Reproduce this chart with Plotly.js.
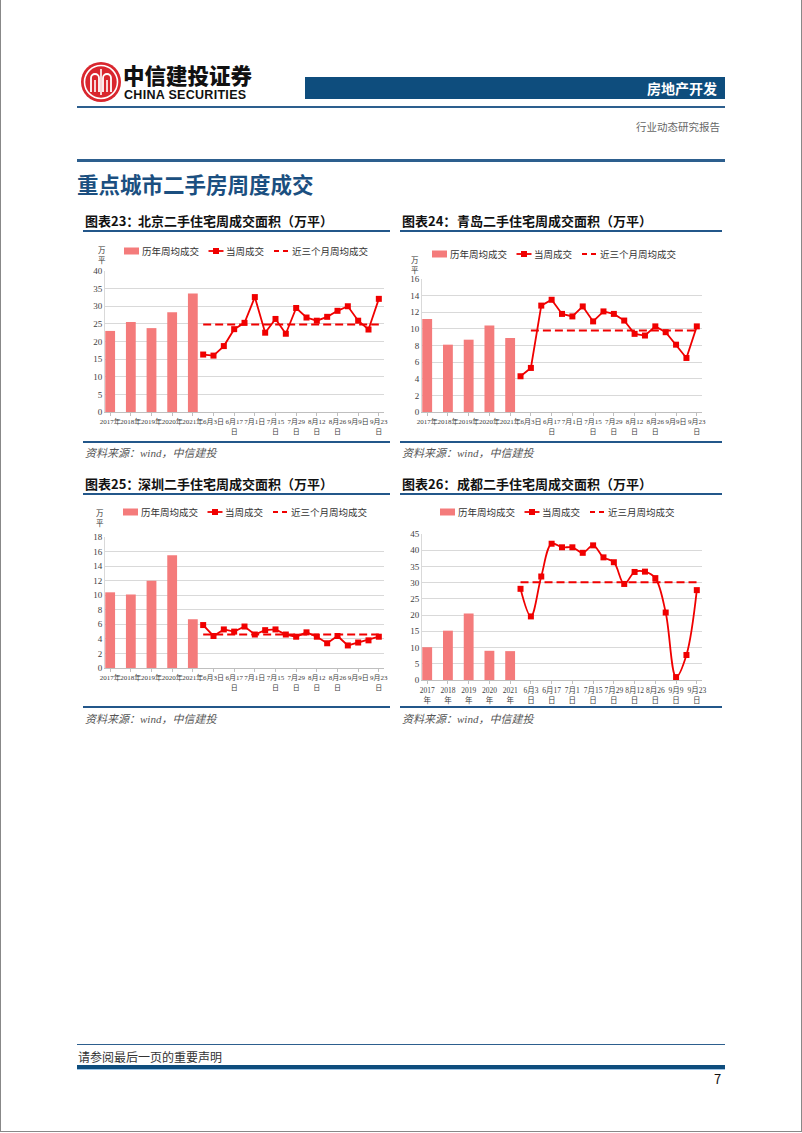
<!DOCTYPE html>
<html><head><meta charset="utf-8">
<script src="https://cdn.plot.ly/plotly-3.0.1.min.js"></script>
<style>
body{margin:0;background:#fff;}
#page{position:relative;width:802px;height:1133px;overflow:hidden;font-family:"Noto Sans CJK SC","Noto Sans",sans-serif;background:#fff;}
.abs{position:absolute;white-space:nowrap;}
.hl{position:absolute;height:0;border-top:2px solid #23578A;}
.ct{position:absolute;font-size:13px;font-weight:700;color:#111;line-height:16px;}
.src{position:absolute;font-size:11px;font-style:italic;color:#555;line-height:14px;font-family:"Liberation Serif","Noto Sans CJK SC",serif;}
.chart{position:absolute;}
</style></head><body>
<div id="page">
  <div class="abs" style="left:0;top:0;width:800px;height:1131px;border-left:1px solid #888;border-right:1px solid #888;border-bottom:1px solid #888;"></div>
  <!-- logo -->
  <svg class="abs" style="left:80px;top:61px" width="42" height="42" viewBox="0 0 42 42">
    <circle cx="21" cy="21" r="20" fill="#D9262E"/>
    <circle cx="21" cy="21" r="16.5" fill="none" stroke="#fff" stroke-width="1.6"/>
    <path d="M11 31V17a4 4 0 0 1 8 0V31M23 31V17a4 4 0 0 1 8 0V31" fill="none" stroke="#fff" stroke-width="1.8"/>
    <path d="M15 31V19M27 31V19M21 8V34" fill="none" stroke="#fff" stroke-width="1.6"/>
  </svg>
  <div class="abs" style="left:123px;top:63px;font-size:21.5px;font-weight:900;color:#111;line-height:24px;">中信建投证券</div>
  <div class="abs" style="left:124px;top:89px;font-size:12.5px;font-weight:700;color:#111;line-height:13px;font-family:'Liberation Sans Narrow','Liberation Sans',sans-serif;letter-spacing:0.3px;">CHINA SECURITIES</div>
  <div class="abs" style="left:305px;top:77px;width:420px;height:22px;background:#0E4D7D;"></div>
  <div class="abs" style="left:600px;top:77px;width:117px;height:22px;line-height:22px;text-align:right;color:#fff;font-size:14px;font-weight:700;">房地产开发</div>
  <div class="hl" style="left:77px;top:106px;width:648px;border-top:2px solid #2D5F8E;"></div>
  <div class="abs" style="left:560px;top:119px;width:160px;text-align:right;font-size:10.5px;color:#666;line-height:16px;">行业动态研究报告</div>
  <div class="hl" style="left:77px;top:159px;width:648px;border-top:3px solid #2D5F8E;"></div>
  <div class="abs" style="left:77px;top:170px;font-size:21.5px;font-weight:700;color:#1B4F80;line-height:28px;">重点城市二手房周度成交</div>

  <!-- chart titles row 1 -->
  <div class="ct" style="left:85px;top:213px;">图表23：</div>
  <div class="ct" style="left:138px;top:213px;">北京二手住宅周成交面积（万平）</div>
  <div class="ct" style="left:402px;top:213px;">图表24：</div>
  <div class="ct" style="left:457px;top:213px;">青岛二手住宅周成交面积（万平）</div>
  <div class="hl" style="left:83px;top:230px;width:307px;"></div>
  <div class="hl" style="left:400px;top:230px;width:322px;"></div>

  <div id="c1" class="chart" style="left:75px;top:236px;width:320px;height:202px;"></div>
  <div id="c2" class="chart" style="left:395px;top:236px;width:325px;height:202px;"></div>

  <div class="hl" style="left:83px;top:441px;width:307px;"></div>
  <div class="hl" style="left:400px;top:441px;width:322px;"></div>
  <div class="src" style="left:85px;top:446px;">资料来源：wind，中信建投</div>
  <div class="src" style="left:402px;top:446px;">资料来源：wind，中信建投</div>

  <!-- chart titles row 2 -->
  <div class="ct" style="left:85px;top:476px;">图表25：</div>
  <div class="ct" style="left:138px;top:476px;">深圳二手住宅周成交面积（万平）</div>
  <div class="ct" style="left:402px;top:476px;">图表26：</div>
  <div class="ct" style="left:457px;top:476px;">成都二手住宅周成交面积（万平）</div>
  <div class="hl" style="left:83px;top:493px;width:307px;"></div>
  <div class="hl" style="left:400px;top:493px;width:322px;"></div>

  <div id="c3" class="chart" style="left:75px;top:500px;width:320px;height:200px;"></div>
  <div id="c4" class="chart" style="left:395px;top:500px;width:325px;height:206px;"></div>

  <div class="hl" style="left:83px;top:706px;width:307px;"></div>
  <div class="hl" style="left:400px;top:706px;width:322px;"></div>
  <div class="src" style="left:85px;top:712px;">资料来源：wind，中信建投</div>
  <div class="src" style="left:402px;top:712px;">资料来源：wind，中信建投</div>

  <!-- footer -->
  <div class="hl" style="left:77px;top:1044px;width:648px;border-top:1.5px solid #2D5F8E;"></div>
  <div class="abs" style="left:78px;top:1049px;font-size:12px;color:#333;line-height:16px;">请参阅最后一页的重要声明</div>
  <div class="hl" style="left:77px;top:1065px;width:648px;border-top:4px solid #0E4D7D;"></div>
  <div class="hl" style="left:77px;top:1069px;width:648px;border-top:1px solid #9CC3E6;"></div>
  <div class="abs" style="left:714px;top:1071px;font-size:13px;color:#111;line-height:16px;">7</div>
</div>
<script>
// ---------------- data ----------------
const yearLabels = ['2017年','2018年','2019年','2020年','2021年'];
const weekLabels = ['5月27日','6月3日','6月10日','6月17日','6月24日','7月1日','7月8日','7月15日','7月22日','7月29日','8月5日','8月12日','8月19日','8月26日','9月2日','9月9日','9月16日','9月23日'];
const legendNames = ['历年周均成交','当周成交','近三个月周均成交'];
const legendNamesCD = ['历年周均成交','当周成交','近三月周均成交'];

const bjYearly = [23.0, 25.5, 23.8, 28.3, 33.6];
const bjWeekly = [16.3, 16.0, 18.7, 23.5, 25.3, 32.6, 22.5, 26.4, 22.2, 29.5, 26.8, 25.9, 27.0, 28.7, 30.0, 25.9, 23.4, 32.1];
const bjAvg3m = 24.8;

const qdYearly = [11.2, 8.1, 8.7, 10.4, 8.9];
const qdWeekly = [4.3, 5.3, 12.8, 13.5, 11.8, 11.5, 12.7, 10.9, 12.1, 11.8, 11.0, 9.4, 9.2, 10.3, 9.6, 8.1, 6.5, 10.3];
const qdAvg3m = 9.8;

const szYearly = [10.4, 10.1, 12.0, 15.5, 6.7];
const szWeekly = [5.9, 4.4, 5.3, 5.0, 5.7, 4.6, 5.2, 5.3, 4.6, 4.3, 4.9, 4.3, 3.4, 4.4, 3.1, 3.5, 3.8, 4.3];
const szAvg3m = 4.6;

const cdYearly = [10.1, 15.2, 20.5, 9.0, 8.9];
const cdWeekly = [28.1, 19.6, 31.9, 42.0, 40.9, 40.9, 39.2, 41.5, 37.8, 36.3, 29.6, 33.3, 33.4, 31.4, 20.8, 0.9, 7.7, 27.7];
const cdAvg3m = 30.1;

// ---------------- drawing ----------------
const BAR = '#F47B7B', RED = '#F00000', GRID = '#D9D9D9';
const serif = '"Liberation Serif","Noto Sans CJK SC",serif';
const cjk = '"Noto Sans CJK SC",sans-serif';
const LEG_FONT = 9.5;

function wrapLabel(s, force){
  if (force || s.length > 4) return s.slice(0, -1) + '<br>' + s.slice(-1);
  return s;
}

function makeChart(o){
  const nY = o.yearly.length;
  const yearX = o.yearly.map((_, i) => 2 * i);
  const weekX = o.weekly.map((_, j) => 2 * nY - 1 + j);
  const avgY = o.weekly.map((_, j) => j >= o.avgFrom ? o.avg : null);
  const tickvals = [], ticktext = [];
  yearX.forEach((x, i) => { tickvals.push(x); ticktext.push(o.wrapAll ? wrapLabel(yearLabels[i], true) : yearLabels[i]); });
  weekX.forEach((x, j) => { if (j % 2 === 1) { tickvals.push(x); ticktext.push(wrapLabel(weekLabels[j], o.wrapAll)); } });

  const traces = [
    {type:'bar', x:yearX, y:o.yearly, name:o.names[0], width:0.95, marker:{color:BAR, line:{width:0}}},
    {type:'scatter', mode:'lines+markers', x:weekX, y:o.weekly, name:o.names[1],
      line:{color:RED, width:1.8, shape:o.smooth ? 'spline' : 'linear', smoothing:1},
      marker:{symbol:'square', size:6, color:RED}},
    {type:'scatter', mode:'lines', x:weekX, y:avgY, name:o.names[2],
      line:{color:RED, width:2, dash:'8px,4px'}}
  ];

  // legend (drawn as shapes + text, positioned in pixels of the chart box)
  const pw = o.w - o.m.l - o.m.r, ph = o.h - o.m.t - o.m.b;
  const px = v => (v - o.m.l) / pw;
  const py = v => (o.h - o.m.b - v) / ph;
  const shapes = [], annotations = [];
  let cx = o.legX;
  const yc = o.legY;
  o.names.forEach((name, k) => {
    const base = {xref:'paper', yref:'paper'};
    if (k === 0) {
      shapes.push(Object.assign({type:'rect', x0:px(cx), x1:px(cx + 15), y0:py(yc + 3.5), y1:py(yc - 3.5),
        fillcolor:BAR, line:{width:0}}, base));
    } else if (k === 1) {
      shapes.push(Object.assign({type:'line', x0:px(cx), x1:px(cx + 15), y0:py(yc), y1:py(yc),
        line:{color:RED, width:1.8}}, base));
      shapes.push(Object.assign({type:'rect', x0:px(cx + 4.5), x1:px(cx + 10.5), y0:py(yc + 3), y1:py(yc - 3),
        fillcolor:RED, line:{width:0}}, base));
    } else {
      shapes.push(Object.assign({type:'line', x0:px(cx), x1:px(cx + 14), y0:py(yc), y1:py(yc),
        line:{color:RED, width:2, dash:'5px,4px'}}, base));
    }
    annotations.push({xref:'paper', yref:'paper', x:px(cx + 16.5), y:py(yc), xanchor:'left', yanchor:'middle',
      text:name, showarrow:false, font:{family:cjk, size:LEG_FONT, color:'#333'}, borderpad:0});
    cx += 16.5 + name.length * LEG_FONT + 11;
  });

  if (o.unit) {
    annotations.push({xref:'paper', yref:'paper', x:0, y:1, xanchor:'center', yanchor:'bottom',
      xshift:o.unit.dx, yshift:o.unit.dy, text:'万<br>平', showarrow:false,
      font:{family:cjk, size:7.5, color:'#333'}});
  }
  const layout = {
    width:o.w, height:o.h, margin:o.m, paper_bgcolor:'#fff', plot_bgcolor:'#fff',
    showlegend:false, barmode:'overlay',
    xaxis:{range:[-0.5, 2 * nY - 1 + o.weekly.length - 0.5], tickmode:'array', tickvals:tickvals, ticktext:ticktext,
      showgrid:false, zeroline:false, showline:true, linecolor:'#BFBFBF', linewidth:1,
      ticks:'outside', ticklen:3, tickcolor:'#BFBFBF',
      tickfont:{family:serif, size:o.xfont, color:'#404040'}, tickangle:0, fixedrange:true},
    yaxis:{range:[0, o.yMax], dtick:o.dtick, tick0:0, showgrid:true, gridcolor:GRID, gridwidth:1,
      zeroline:false, showline:true, linecolor:'#D9D9D9', ticks:'',
      tickfont:{family:serif, size:9, color:'#404040'}, fixedrange:true},
    shapes:shapes,
    annotations:annotations,
    font:{family:cjk}
  };
  Plotly.newPlot(o.id, traces, layout, {staticPlot:true, displayModeBar:false});
}

// legend positions are given in pixels inside each chart box
makeChart({id:'c1', yearly:bjYearly, weekly:bjWeekly, avg:bjAvg3m, avgFrom:0, names:legendNames,
  yMax:40, dtick:5, wrapAll:false, smooth:false, xfont:7, w:320, h:202, m:{l:30, r:11, t:35, b:26},
  legX:49, legY:15, unit:{dx:-3, dy:4}});
makeChart({id:'c2', yearly:qdYearly, weekly:qdWeekly, avg:qdAvg3m, avgFrom:1, names:legendNames,
  yMax:16, dtick:2, wrapAll:false, smooth:false, xfont:7, w:325, h:202, m:{l:27, r:18, t:43, b:26},
  legX:37, legY:18, unit:{dx:-7, dy:2}});
makeChart({id:'c3', yearly:szYearly, weekly:szWeekly, avg:szAvg3m, avgFrom:0, names:legendNames,
  yMax:18, dtick:2, wrapAll:false, smooth:false, xfont:7, w:320, h:200, m:{l:30, r:11, t:37, b:32},
  legX:48, legY:12, unit:{dx:-5, dy:7}});
makeChart({id:'c4', yearly:cdYearly, weekly:cdWeekly, avg:cdAvg3m, avgFrom:0, names:legendNamesCD,
  yMax:45, dtick:5, wrapAll:true, smooth:true, xfont:7.5, w:325, h:206, m:{l:27, r:18, t:34, b:26},
  legX:45, legY:12, unit:null});
</script>
</body></html>
